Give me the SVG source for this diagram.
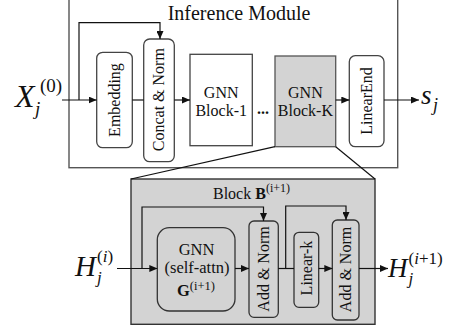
<svg xmlns="http://www.w3.org/2000/svg" width="451" height="327" viewBox="0 0 451 327" font-family="'Liberation Serif', 'Times New Roman', serif">
<defs>
<marker id="ah" markerUnits="userSpaceOnUse" markerWidth="8" markerHeight="7" refX="8" refY="3.5" orient="auto">
<path d="M0,0 L8,3.5 L0,7 z" fill="#111"/>
</marker>
<style>
text{font-family:"Liberation Serif","Times New Roman",serif;fill:#111}
.m{font-style:italic}
.u{font-style:normal}
.node{fill:#ffffff;stroke:#444;stroke-width:1.3}
.gnode{fill:#d3d3d3;stroke:#333;stroke-width:1.3}
.ln{fill:none;stroke:#111;stroke-width:1.2}
.arr{fill:none;stroke:#111;stroke-width:1.2;marker-end:url(#ah)}
</style>
</defs>
<rect width="451" height="327" fill="#ffffff"/>

<g id="inference-module">
<rect x="69" y="-3" width="328.7" height="170.7" fill="#ffffff" stroke="#555" stroke-width="1.4"/>
<text x="239" y="20" font-size="20" text-anchor="middle">Inference Module</text>
</g>

<g id="embedding">
<rect class="node" x="96.7" y="52.3" width="35.6" height="95.4" rx="6"/>
<text x="114.5" y="105.5" font-size="16" text-anchor="middle" transform="rotate(-90 114.5 100)">Embedding</text>
</g>

<g id="concat-norm">
<rect class="node" x="143.7" y="39" width="30.6" height="122.7" rx="6"/>
<text x="159" y="105.2" font-size="16" text-anchor="middle" transform="rotate(-90 159 99.7)">Concat &amp; Norm</text>
</g>

<g id="gnn-block-1">
<rect class="node" x="190" y="54.3" width="62.3" height="91.4"/>
<text x="221.2" y="98" font-size="16" text-anchor="middle">GNN</text>
<text x="221.2" y="116" font-size="16" text-anchor="middle">Block-1</text>
</g>

<g id="dots">
<text x="263" y="114" font-size="16" font-weight="bold" text-anchor="middle">...</text>
</g>

<g id="gnn-block-k">
<rect x="275" y="56" width="60.7" height="90.7" fill="#d3d3d3" stroke="#555" stroke-width="1.3"/>
<text x="305.4" y="98" font-size="16" text-anchor="middle">GNN</text>
<text x="305.4" y="116" font-size="16" text-anchor="middle">Block-K</text>
</g>

<g id="linear-end">
<rect class="node" x="349.3" y="55.7" width="34.7" height="91" rx="6"/>
<text x="366.7" y="106.5" font-size="16" text-anchor="middle" transform="rotate(-90 366.7 101)">LinearEnd</text>
</g>

<g id="x-input">
<text class="m" x="15" y="106.5" font-size="32">X<tspan class="u" x="40" y="92" font-size="19">(0)</tspan><tspan x="35" y="115" font-size="19">j</tspan></text>
</g>

<g id="s-output">
<text class="m" x="421" y="104" font-size="27">s<tspan x="433" y="111" font-size="18">j</tspan></text>
</g>

<g id="block-detail">
<rect x="131" y="179" width="244" height="145.3" fill="#d3d3d3" stroke="#333" stroke-width="1.4"/>
<text x="213" y="199" font-size="16">Block <tspan font-weight="bold">B</tspan><tspan font-size="12" dy="-7.5">(i+1)</tspan></text>
</g>

<g id="gnn-self-attn">
<rect class="gnode" x="157.3" y="227.7" width="77.7" height="83.3" rx="12"/>
<text x="196.5" y="254.5" font-size="16.5" text-anchor="middle">GNN</text>
<text x="197" y="273" font-size="16.5" text-anchor="middle">(self-attn)</text>
<text x="177" y="296" font-size="16.5"><tspan font-weight="bold">G</tspan><tspan font-size="12.5" dy="-6">(i+1)</tspan></text>
</g>

<g id="add-norm-1">
<rect class="gnode" x="249" y="221" width="29.3" height="96.3" rx="5"/>
<text x="263.7" y="274.5" font-size="16" text-anchor="middle" transform="rotate(-90 263.7 269)">Add &amp; Norm</text>
</g>

<g id="linear-k">
<rect class="gnode" x="294" y="232.3" width="24.7" height="75" rx="5"/>
<text x="306.3" y="273.5" font-size="16" text-anchor="middle" transform="rotate(-90 306.3 268)">Linear-k</text>
</g>

<g id="add-norm-2">
<rect class="gnode" x="332.3" y="220" width="26.7" height="100" rx="5"/>
<text x="345.7" y="275" font-size="16" text-anchor="middle" transform="rotate(-90 345.7 269.5)">Add &amp; Norm</text>
</g>

<g id="h-input">
<text class="m" x="75" y="275.5" font-size="29">H<tspan class="u" x="97" y="262" font-size="17">(<tspan class="m">i</tspan>)</tspan><tspan x="97" y="283" font-size="17">j</tspan></text>
</g>

<g id="h-output">
<text class="m" x="388" y="276.5" font-size="27">H<tspan class="u" x="408.5" y="264" font-size="17">(<tspan class="m">i</tspan>+1)</tspan><tspan x="408.5" y="284" font-size="17">j</tspan></text>
</g>

<g id="connectors">
<path class="arr" d="M62,100 H96.7"/>
<path class="arr" d="M79,100 V22.7 H160 V39"/>
<path class="ln" d="M132.3,100 H143.7"/>
<path class="arr" d="M174.3,100 H190"/>
<path class="arr" d="M335.7,100 H349.3"/>
<path class="arr" d="M384,100 H419"/>
<path class="ln" d="M275,146.7 L131,179"/>
<path class="ln" d="M335.7,146.7 L375,179"/>
<path class="arr" d="M117,268.5 H157.3"/>
<path class="arr" d="M142,268.5 V207 H263.5 V221"/>
<path class="arr" d="M235,268.5 H249"/>
<path class="ln" d="M278.3,268.5 H294"/>
<path class="arr" d="M285.7,268.5 V206 H346 V220"/>
<path class="arr" d="M318.7,268.5 H332.3"/>
<path class="arr" d="M359,268.5 H388"/>
</g>
</svg>
